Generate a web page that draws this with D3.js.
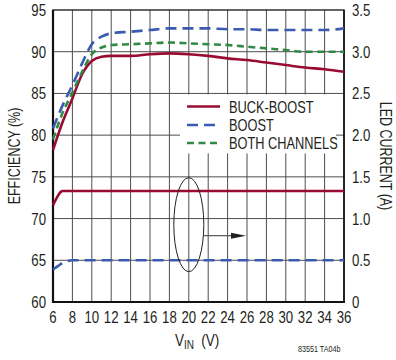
<!DOCTYPE html>
<html><head><meta charset="utf-8">
<script src="https://cdn.jsdelivr.net/npm/d3@7"></script>
<style>
body{margin:0;background:#fff;}
text{font-family:"Liberation Sans","Helvetica",sans-serif;fill:#231f20;}
</style></head><body>
<svg id="c" width="396" height="360"></svg>
<script>
// Data (efficiency %, VIN in volts)
const vin = [6, 7, 8, 9, 10, 11, 12, 14, 16, 18, 20, 22, 24, 26, 28, 30, 32, 34, 36];
const buckBoostEff = [78.2, 81.6, 84.4, 87.3, 88.9, 89.4, 89.5, 89.5, 89.7, 89.8, 89.7, 89.5, 89.2, 89.0, 88.7, 88.4, 88.1, 87.9, 87.6];
const boostEff =     [80.8, 83.6, 86.0, 88.6, 90.9, 91.8, 92.2, 92.4, 92.6, 92.8, 92.8, 92.8, 92.7, 92.7, 92.6, 92.6, 92.6, 92.6, 92.8];
const bothEff =      [79.5, 82.7, 85.1, 87.6, 89.7, 90.5, 90.8, 90.9, 91.0, 91.1, 91.0, 90.9, 90.8, 90.6, 90.4, 90.2, 90.0, 90.0, 90.0];
// LED current (A)
const vinCurBB = [6, 6.4, 6.8, 7.0, 8, 12, 16, 20, 24, 28, 32, 36];
const buckBoostCur = [1.16, 1.25, 1.32, 1.33, 1.33, 1.33, 1.33, 1.33, 1.33, 1.33, 1.33, 1.33];
const vinCurB = [6, 6.5, 7, 7.5, 8, 12, 16, 20, 24, 28, 32, 36];
const boostCur = [0.39, 0.43, 0.47, 0.49, 0.5, 0.5, 0.5, 0.5, 0.5, 0.5, 0.5, 0.5];
const xTicks = d3.range(6, 37, 2);
const yTicks = [60, 65, 70, 75, 80, 85, 90, 95];
const y2Ticks = [0, 0.5, 1.0, 1.5, 2.0, 2.5, 3.0, 3.5];
const y2Labels = ["0", "0.5", "1.0", "1.5", "2.0", "2.5", "3.0", "3.5"];
const legendNames = ["BUCK-BOOST", "BOOST", "BOTH CHANNELS"];

const colors = {bb: "#9a0b32", boost: "#3b5bb0", both: "#2f8a45"};
const L = 53, R = 344, T = 10, B = 302;
const SX = 0.8;
const svg = d3.select("#c");
const x = d3.scaleLinear().domain([6, 36]).range([L, R]);
const y = d3.scaleLinear().domain([60, 95]).range([B, T]);
const y2 = d3.scaleLinear().domain([0, 3.5]).range([B, T]);

function txt(px, py, str, size, anchor, rot) {
  const gg = svg.append("g").attr("transform", `translate(${px},${py})` + (rot ? ` rotate(${rot})` : "") + ` scale(${SX},1)`);
  return gg.append("text").attr("font-size", size).attr("text-anchor", anchor || "start").text(str);
}

// grid
const g = svg.append("g");
g.selectAll(".vx").data(xTicks.slice(1, -1)).join("line")
  .attr("x1", d => x(d)).attr("x2", d => x(d)).attr("y1", T).attr("y2", B)
  .attr("stroke", "#4d4d4d").attr("stroke-width", 1);
g.selectAll(".hy").data(yTicks.slice(1, -1)).join("line")
  .attr("x1", L).attr("x2", R).attr("y1", d => y(d)).attr("y2", d => y(d))
  .attr("stroke", "#4d4d4d").attr("stroke-width", 1);

// legend background
svg.append("rect").attr("x", 180).attr("y", y(85) + 1).attr("width", 156).attr("height", 59).attr("fill", "#fff");

// frame
svg.append("rect").attr("x", L).attr("y", T).attr("width", R - L).attr("height", B - T)
  .attr("fill", "none").attr("stroke", "#111").attr("stroke-width", 1.3);
svg.append("line").attr("x1", L).attr("x2", L).attr("y1", T).attr("y2", B + 1).attr("stroke", "#111").attr("stroke-width", 2.2);
svg.append("line").attr("x1", L - 1).attr("x2", R + 1).attr("y1", B).attr("y2", B).attr("stroke", "#111").attr("stroke-width", 2.2);
svg.append("line").attr("x1", R).attr("x2", R).attr("y1", T).attr("y2", B + 1).attr("stroke", "#111").attr("stroke-width", 1.5);

// axes text
const fs = 16.5;
yTicks.forEach(d => txt(46, y(d) + 6, d, fs, "end"));
y2Ticks.forEach((d, i) => txt(352, y2(d) + 6, y2Labels[i], fs, "start"));
xTicks.forEach(d => txt(x(d), 322.5, d, fs, "middle"));

txt(20, 156, "EFFICIENCY (%)", 15.6, "middle", -90);
txt(380, 156, "LED CURRENT (A)", 15.6, "middle", 90);
const xt = txt(175, 346, "", 17, "start");
xt.append("tspan").text("V");
xt.append("tspan").attr("font-size", 12.5).attr("dy", 3).text("IN");
xt.append("tspan").attr("dy", -3).attr("dx", 9).text("(V)");
txt(298, 352, "83551 TA04b", 9, "start");

// lines
const line = (xs, ys, sc) => d3.line().x((d, i) => x(xs[i])).y(d => sc(d)).curve(d3.curveMonotoneX)(ys);
function path(d, c, dash, w) {
  svg.append("path").attr("d", d).attr("fill", "none").attr("stroke", c)
    .attr("stroke-width", w).attr("stroke-dasharray", dash).attr("stroke-linecap", "butt");
}
path(line(vin, buckBoostEff, y), colors.bb, null, 2.6);
path(line(vin, boostEff, y), colors.boost, "11,6", 2.6);
path(line(vin, bothEff, y), colors.both, "7,4.5", 2.6);
path(line(vinCurBB, buckBoostCur, y2), colors.bb, null, 2.6);
path(line(vinCurB, boostCur, y2), colors.boost, "11,6", 2.6);

// legend
const ly = [106.5, 125, 143];
const lstyle = [[colors.bb, null], [colors.boost, "11,6"], [colors.both, "7,4.5"]];
legendNames.forEach((n, i) => {
  svg.append("line").attr("x1", 187).attr("x2", 220).attr("y1", ly[i]).attr("y2", ly[i])
    .attr("stroke", lstyle[i][0]).attr("stroke-width", 2.6).attr("stroke-dasharray", lstyle[i][1]);
  txt(229, ly[i] + 6, n, 16, "start");
});

// ellipse + arrow annotation
svg.append("ellipse").attr("cx", x(20)).attr("cy", y(69.27)).attr("rx", 15).attr("ry", 47)
  .attr("fill", "none").attr("stroke", "#231f20").attr("stroke-width", 1);
const ay = y(67.95);
svg.append("line").attr("x1", x(20) + 15).attr("x2", 234).attr("y1", ay).attr("y2", ay)
  .attr("stroke", "#555").attr("stroke-width", 1.2);
svg.append("path").attr("d", `M231,${ay - 3} L246,${ay} L231,${ay + 3} Z`).attr("fill", "#231f20");
</script>
</body></html>
